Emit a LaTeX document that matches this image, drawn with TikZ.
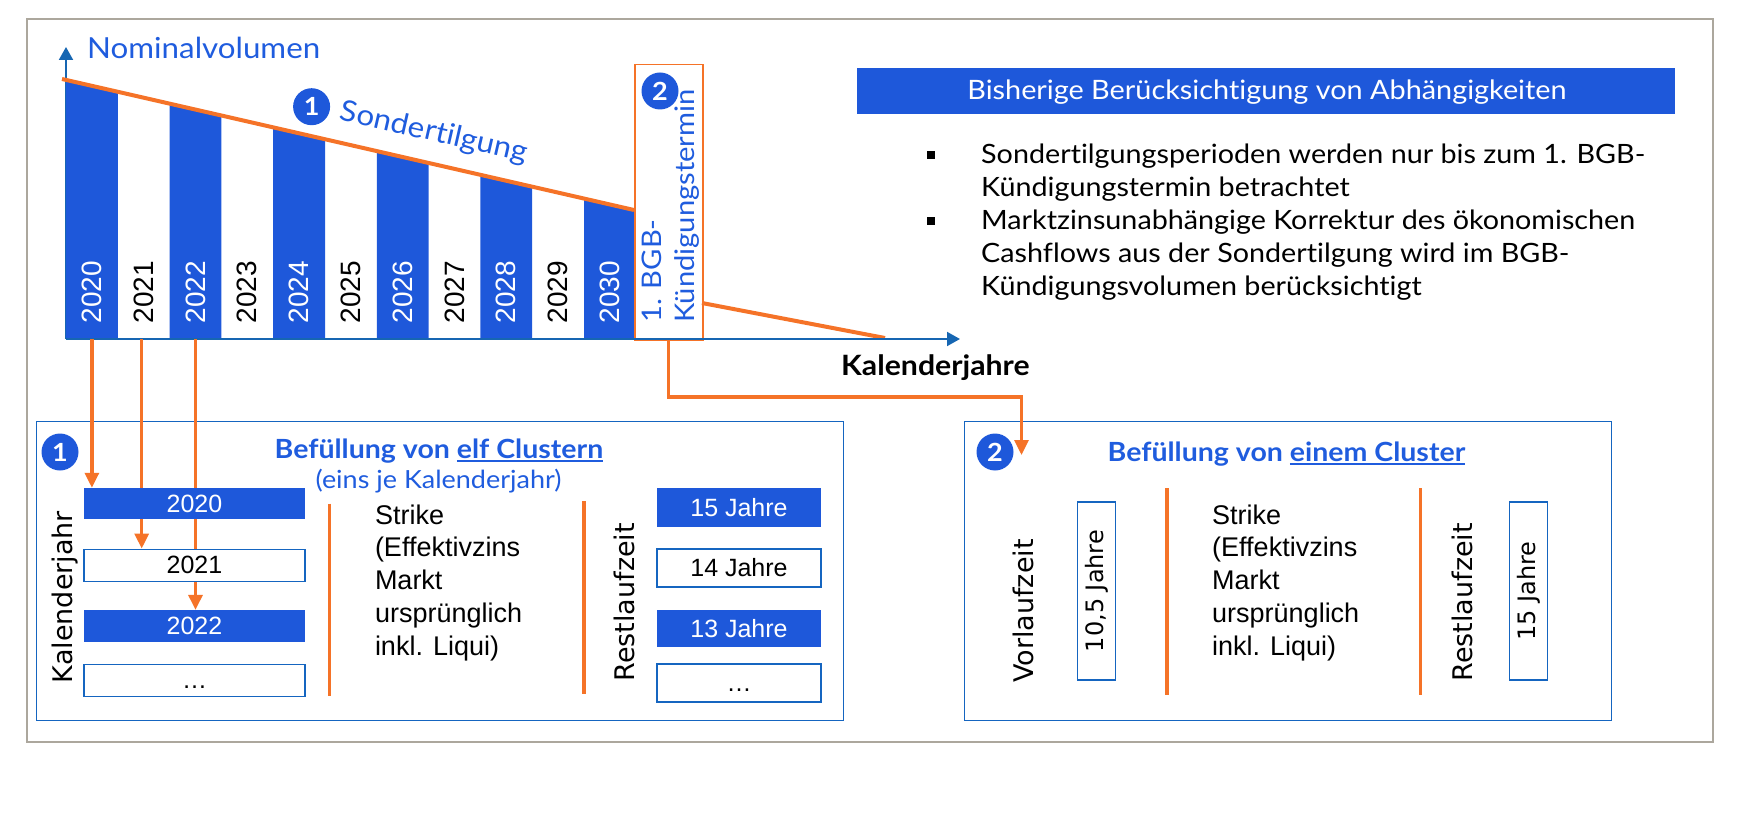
\documentclass[tikz,border=0pt]{standalone}
\usepackage{fontspec}
\setmainfont{Lato}[FakeStretch=1.08, Ligatures=NoCommon]
\newfontfamily\arialf{Liberation Sans}
\newfontfamily\dejaf{DejaVu Sans}
\usetikzlibrary{arrows.meta}
\definecolor{bblue}{RGB}{30,88,218}
\definecolor{tblue}{RGB}{31,92,222}
\definecolor{lblue}{RGB}{21,101,192}
\definecolor{axblue}{RGB}{22,102,178}
\definecolor{org}{RGB}{245,115,40}
\definecolor{frm}{RGB}{172,167,157}
\newcommand\fs[2]{\fontsize{#1}{#2}\selectfont}
\newcommand\myul[1]{\setbox0=\hbox{#1}\rlap{\rule[-3.5pt]{\wd0}{2pt}}\box0}
\begin{document}
\begin{tikzpicture}[x=1pt,y=-1pt,
  arr/.style={draw=org, line width=3.2pt, -{Triangle[length=15pt,width=14pt]}},
  oline/.style={draw=org, line width=4pt},
  sepline/.style={draw=org, line width=3.5pt},
  axis/.style={draw=axblue, line width=2pt, -{Triangle[length=13pt,width=14pt]}},
  numc/.style={circle, fill=bblue, text=white, minimum size=37pt, inner sep=0pt, font=\bfseries\fs{25}{25}},
  yrlab/.style={rotate=90, anchor=west, inner sep=0pt, font=\arialf\fs{28}{32}},
  bluebox/.style={fill=bblue, text=white, inner sep=0pt, font=\arialf\fs{25}{30}},
  whitebox/.style={draw=lblue, line width=1.3pt, fill=white, text=black, inner sep=0pt, font=\arialf\fs{25}{30}},
  rotlab/.style={rotate=90, anchor=base west, inner sep=0pt, font=\dejaf\fs{27}{32}},
  strk/.style={anchor=base west, inner sep=0pt, font=\arialf\fs{27}{33}},
  bult/.style={anchor=base west, inner sep=0pt, font=\fs{26.6}{33}},
  ttl/.style={anchor=base, inner sep=0pt, text=tblue, font=\bfseries\fs{26.4}{32}},
  vbox/.style={draw=lblue, line width=1.3pt, rotate=90, minimum width=178pt, minimum height=38pt, inner sep=0pt, font=\dejaf\fs{24}{28}}
]
\useasboundingbox (0,0) rectangle (1745,818);
% outer frame
\draw[frm, line width=1.5pt] (27,19) rectangle (1713,742);

% axes coordinates
\coordinate (o) at (66,339);
\coordinate (ytip) at (66,47);
\coordinate (xtip) at (960,339);
\draw[axis] (o) -- (ytip);

% bars
\foreach \i in {0,2,...,10} {
  \pgfmathsetmacro\xa{66+51.8*\i}
  \pgfmathsetmacro\xb{\xa+51.8}
  \pgfmathsetmacro\ya{79+0.22902*(\xa-62)}
  \pgfmathsetmacro\yb{79+0.22902*(\xb-62)}
  \fill[bblue] (\xa,339) -- (\xa,\ya) -- (\xb,\yb) -- (\xb,339) -- cycle;
}
% year labels
\foreach \i in {0,...,10} {
  \pgfmathsetmacro\xc{66+51.8*\i+25.9}
  \pgfmathtruncatemacro\yr{2020+\i}
  \pgfmathparse{mod(\i,2)==0 ? "white" : "black"}
  \edef\tc{\pgfmathresult}
  \node[yrlab, text=\tc] (yr\i) at (\xc,323.5) {\yr};
}

% Nominalvolumen
\node[anchor=base west, inner sep=0pt, text=tblue, font=\fs{29}{34}] (nomv) at (87,59) {Nominalvolumen};

% Sondertilgung line
\coordinate (l0) at (62,79);
\coordinate (l1) at (634,210);
\draw[oline] (l0) -- (l1);
\node[numc] (c1a) at (311.6,106.7) {1};
\node[rotate=-12.9, inner sep=0pt, text=tblue, font=\fs{29}{34}] (sond) at (434,133) {Sondertilgung};

% BGB box
\node[draw=org, line width=1.5pt, fill=white, minimum width=68pt, minimum height=275pt, anchor=north west, inner sep=0pt] (bgb) at (634,64) {};
\node[numc] (c2a) at (660,91) {2};
\node[rotate=90, anchor=base west, inner sep=0pt, text=tblue, font=\fs{27}{34}] (bgb1) at (661,323) {1. BGB-};
\node[rotate=90, anchor=base west, inner sep=0pt, text=tblue, font=\fs{27}{34}] (bgb2) at (694,323) {Kündigungstermin};

% second segment
\coordinate (l2) at (702,303);
\coordinate (l3) at (885,338);
\draw[oline] (l2) -- (l3);

% x axis
\draw[axis] (o) -- (xtip);
\node[anchor=base west, inner sep=0pt, font=\bfseries\fs{28}{32}] (kj) at (841,375) {Kalenderjahre};

% header and bullets
\node[fill=bblue, minimum width=818pt, minimum height=46pt, anchor=north west, inner sep=0pt] (hdr) at (857,68) {};
\node[inner sep=0pt, text=white, font=\fs{26.7}{32}] (hdrt) at (1267,92) {Bisherige Berücksichtigung von Abhängigkeiten};
\node[fill=black, minimum size=8pt, inner sep=0pt] (bul1) at (931,155) {};
\node[fill=black, minimum size=8pt, inner sep=0pt] (bul2) at (931,221) {};
\node[bult] (bt1) at (981,164) {Sondertilgungsperioden werden nur bis zum 1. BGB-};
\node[bult] (bt2) at (981,197) {Kündigungstermin betrachtet};
\node[bult] (bt3) at (981,230) {Marktzinsunabhängige Korrektur des ökonomischen};
\node[bult] (bt4) at (981,263) {Cashflows aus der Sondertilgung wird im BGB-};
\node[bult] (bt5) at (981,296) {Kündigungsvolumen berücksichtigt};

% cluster boxes
\node[draw=lblue, line width=1.3pt, minimum width=807pt, minimum height=299pt, anchor=north west, inner sep=0pt] (cl1) at (36,421) {};
\node[draw=lblue, line width=1.3pt, minimum width=647pt, minimum height=299pt, anchor=north west, inner sep=0pt] (cl2) at (964,421) {};
\node[numc] (c1b) at (60,452) {1};
\node[numc] (c2b) at (995,452) {2};
\node[ttl] (t1) at (439,458) {Befüllung von \myul{elf Clustern}};
\node[anchor=base, inner sep=0pt, text=tblue, font=\fs{25}{28}] (t1s) at (438.6,488.5) {(eins je Kalenderjahr)};
\node[ttl] (t2) at (1286.5,461.5) {Befüllung von \myul{einem Cluster}};

% arrows from bars
\coordinate (a0) at (91.9,339);
\coordinate (a1) at (141.7,339);
\coordinate (a2) at (195.5,339);
\coordinate (h2) at (1021.5,397);
\coordinate (k2) at (1021.5,455);

% year boxes (column 1)
\path (194.5,503.7) node[bluebox, minimum width=221pt, minimum height=31.5pt] (y2020) {}
      (194.5,565.2) node[whitebox, minimum width=221pt, minimum height=32pt] (y2021) {}
      (194.5,625.8) node[bluebox, minimum width=221pt, minimum height=31.5pt] (y2022) {};
\draw[arr] (a0) -- (a0 |- y2020.north);
\draw[arr] (a1) -- (a1 |- y2021.north);
\draw[arr] (a2) -- (a2 |- y2022.north);
\draw[arr] (bgb.south) |- (h2) -- (k2);
\node[bluebox, minimum width=221pt, minimum height=31.5pt] (y2020b) at (194.5,503.7) {2020};
\node[whitebox, minimum width=221pt, minimum height=32pt] (y2021b) at (194.5,565.2) {2021};
\node[bluebox, minimum width=221pt, minimum height=31.5pt] (y2022b) at (194.5,625.8) {2022};
\node[whitebox, minimum width=221pt, minimum height=32pt] (ydots) at (194.5,680.3) {\vphantom{0}\dots};

% column 3 boxes
\node[bluebox, minimum width=164pt, minimum height=39pt] (r15) at (739,507.5) {15 Jahre};
\node[whitebox, minimum width=164pt, minimum height=38pt] (r14) at (739,568) {14 Jahre};
\node[bluebox, minimum width=164pt, minimum height=37pt] (r13) at (739,628.5) {13 Jahre};
\node[whitebox, minimum width=164pt, minimum height=38pt] (rdots) at (739,683) {\vphantom{0}\dots};

% separators
\draw[sepline] (329.5,503.5) -- (329.5,696);
\draw[sepline] (584,501) -- (584,694);
\draw[sepline] (1167,488) -- (1167,695);
\draw[sepline] (1420.5,488) -- (1420.5,695);

% strike texts
\foreach \txt [count=\k] in {{Strike},{(Effektivzins},{Markt},{ursprünglich},{inkl. Liqui)}} {
  \pgfmathsetmacro\yy{524+32.9*(\k-1)}
  \node[strk] (sa\k) at (374.8,\yy) {\txt};
  \node[strk] (sb\k) at (1212,\yy) {\txt};
}

% rotated labels
\node[rotlab] (kal) at (72.5,683.3) {Kalenderjahr};
\node[rotlab] (rest1) at (634,681.7) {Restlaufzeit};
\node[rotlab] (vor) at (1033,683) {Vorlaufzeit};
\node[rotlab] (rest2) at (1472,681.7) {Restlaufzeit};
\node[vbox] (v105) at (1096.6,591) {10,5 Jahre};
\node[vbox] (v15) at (1528.8,591) {15 Jahre};
\end{tikzpicture}
\end{document}
